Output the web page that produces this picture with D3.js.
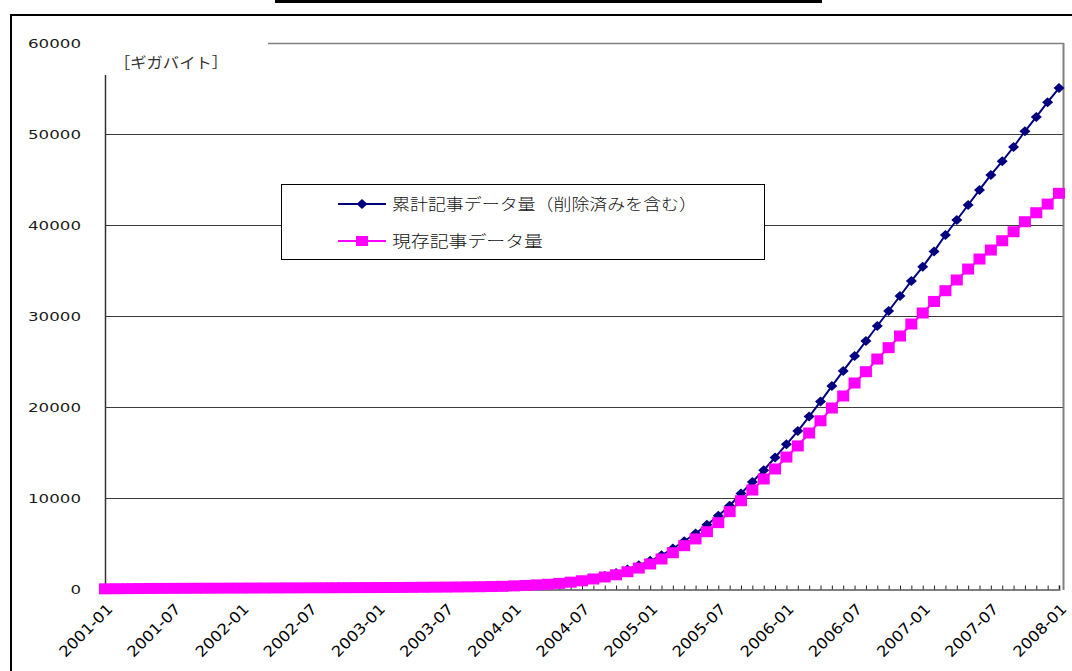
<!DOCTYPE html>
<html>
<head>
<meta charset="utf-8">
<script src="https://cdn.jsdelivr.net/npm/d3@7"></script>
<style>
  html, body { margin: 0; padding: 0; background: #fff; }
  svg { display: block; }
</style>
</head>
<body>
<svg id="chart" width="1072" height="671"></svg>
<script>
// ---------- DATA ----------
const months = d3.timeMonth.range(new Date(2001, 0, 1), new Date(2008, 1, 1)).map(d3.timeFormat("%Y-%m"));

const seriesNames = ["累計記事データ量（削除済みを含む）", "現存記事データ量"];

const cumulative = [
  25, 35, 45, 55, 65, 70, 78, 83, 88, 93, 98, 103,
  110, 115, 120, 125, 130, 136, 142, 148, 154, 160, 166, 172,
  178, 184, 190, 200, 212, 224, 236, 250, 266, 284, 306, 330,
  360, 415, 480, 555, 660, 800, 960, 1160, 1420, 1750, 2150, 2600,
  3100, 3700, 4450, 5250, 6100, 7050, 8050, 9150, 10500, 11750, 13050, 14450,
  15900, 17350, 18950, 20600, 22300, 23960, 25600, 27250, 28900, 30550, 32200, 33850,
  35400, 37100, 38900, 40550, 42200, 43850, 45500, 47000, 48570, 50300, 51870, 53500,
  55050
];

const current = [
  20, 30, 40, 50, 60, 65, 70, 75, 80, 85, 90, 95,
  100, 105, 110, 115, 120, 125, 130, 135, 140, 145, 150, 155,
  160, 165, 170, 180, 190, 200, 210, 220, 235, 250, 270, 290,
  340, 390, 450, 520, 620, 750, 900, 1100, 1320, 1560, 1900, 2300,
  2750, 3300, 3990, 4760, 5500, 6300, 7290, 8500, 9700, 10880, 12090, 13190,
  14500, 15720, 17140, 18490, 19890, 21210, 22640, 23880, 25270, 26520, 27800, 29120,
  30330, 31600, 32780, 33960, 35160, 36260, 37250, 38270, 39260, 40360, 41350, 42300,
  43480
];

const xTickLabels = ["2001-01","2001-07","2002-01","2002-07","2003-01","2003-07","2004-01","2004-07",
                     "2005-01","2005-07","2006-01","2006-07","2007-01","2007-07","2008-01"];
const yTicks = [0, 10000, 20000, 30000, 40000, 50000, 60000];
const unitLabel = "［ギガバイト］";

// ---------- LAYOUT ----------
const svg = d3.select("#chart");
const plot = { left: 105, right: 1063, top: 43, bottom: 589 };

const x = d3.scalePoint().domain(months).range([plot.left, 1059]);
const y = d3.scaleLinear().domain([0, 60000]).range([plot.bottom, plot.top]);

svg.append("rect").attr("width", 1072).attr("height", 671).attr("fill", "#fff");

// title underline (title itself cut off at top)
svg.append("rect").attr("x", 275).attr("y", 0).attr("width", 547).attr("height", 3).attr("fill", "#000");

// outer frame
svg.append("line").attr("x1", 10).attr("x2", 1072).attr("y1", 15).attr("y2", 15)
  .attr("stroke", "#000").attr("stroke-width", 2);
svg.append("line").attr("x1", 11).attr("x2", 11).attr("y1", 14).attr("y2", 671)
  .attr("stroke", "#000").attr("stroke-width", 2);

// gridlines
svg.append("g").selectAll("line").data(yTicks.filter(v => v > 0 && v < 60000)).join("line")
  .attr("x1", plot.left).attr("x2", plot.right)
  .attr("y1", d => Math.round(y(d)) + 0.5).attr("y2", d => Math.round(y(d)) + 0.5)
  .attr("stroke", "#3a3a3a").attr("stroke-width", 1);

// plot area top + right border (gray)
svg.append("line").attr("x1", plot.left).attr("x2", plot.right + 1)
  .attr("y1", y(60000) + 0.5).attr("y2", y(60000) + 0.5)
  .attr("stroke", "#808080").attr("stroke-width", 1.5);
svg.append("line").attr("x1", plot.right + 0.5).attr("x2", plot.right + 0.5)
  .attr("y1", y(60000)).attr("y2", plot.bottom + 1)
  .attr("stroke", "#808080").attr("stroke-width", 2);

// y axis
const yAxis = svg.append("g").attr("transform", `translate(${plot.left},0)`)
  .call(d3.axisLeft(y).tickValues(yTicks).tickSize(0).tickPadding(24).tickFormat(d3.format("d")));
yAxis.select(".domain").attr("stroke", "#333").attr("stroke-width", 1.5);
yAxis.selectAll("text")
  .attr("font-family", "'DejaVu Sans', sans-serif").attr("font-size", 11.5).attr("fill", "#1a1a1a")
  .attr("dy", "0.36em")
  .attr("textLength", d => String(d).length * 10.6).attr("lengthAdjust", "spacingAndGlyphs");

// x axis: monthly inner ticks
const xAxis = svg.append("g").attr("transform", `translate(0,${plot.bottom + 0.5})`)
  .call(d3.axisBottom(x).tickSize(-4).tickFormat(""));
xAxis.select(".domain").attr("stroke", "#808080").attr("stroke-width", 2);
xAxis.selectAll(".tick line").attr("stroke", "#222");

// x axis labels every 6 months
const xLab = svg.append("g").attr("transform", `translate(0,${plot.bottom})`)
  .call(d3.axisBottom(x).tickValues(xTickLabels).tickSize(0).tickPadding(0));
xLab.select(".domain").remove();
xLab.selectAll("text")
  .attr("font-family", "'DejaVu Sans', sans-serif").attr("font-size", 15).attr("fill", "#000")
  .attr("text-anchor", "end").attr("dy", 0).attr("y", 0)
  .attr("transform", "translate(8,21) rotate(-45)")
  .attr("textLength", 68).attr("lengthAdjust", "spacingAndGlyphs");

// white unit label box covering top-left corner
svg.append("rect").attr("x", 100).attr("y", 34).attr("width", 168).attr("height", 41).attr("fill", "#fff");
svg.append("text").attr("x", 114).attr("y", 68).text(unitLabel)
  .attr("font-family", "'Noto Sans CJK JP', sans-serif").attr("font-size", 15).attr("fill", "#333")
  .attr("textLength", 114).attr("lengthAdjust", "spacingAndGlyphs");

// ---------- SERIES ----------
const navy = "#000080", magenta = "#FF00FF";
const line = d3.line().x((d, i) => x(months[i])).y(d => y(d));

svg.append("path").datum(cumulative).attr("d", line)
  .attr("fill", "none").attr("stroke", navy).attr("stroke-width", 2);
const diamond = (cx, cy) => `M${cx},${cy - 5}L${cx + 5.5},${cy}L${cx},${cy + 5}L${cx - 5.5},${cy}Z`;
svg.append("g").selectAll("path").data(cumulative).join("path")
  .attr("d", (d, i) => diamond(x(months[i]), y(d))).attr("fill", navy);

svg.append("path").datum(current).attr("d", line)
  .attr("fill", "none").attr("stroke", magenta).attr("stroke-width", 2);
svg.append("g").selectAll("rect").data(current).join("rect")
  .attr("x", (d, i) => x(months[i]) - 6).attr("y", d => y(d) - 5.5)
  .attr("width", 12).attr("height", 11).attr("fill", magenta);

// ---------- LEGEND ----------
const lg = svg.append("g");
lg.append("rect").attr("x", 281.5).attr("y", 184.5).attr("width", 483).attr("height", 75)
  .attr("fill", "#fff").attr("stroke", "#000").attr("stroke-width", 1);
const legendRows = [
  { name: seriesNames[0], color: navy, shape: "diamond", y: 204, w: 305 },
  { name: seriesNames[1], color: magenta, shape: "square", y: 241, w: 151 }
];
legendRows.forEach(r => {
  lg.append("line").attr("x1", 338).attr("x2", 386).attr("y1", r.y).attr("y2", r.y)
    .attr("stroke", r.color).attr("stroke-width", 2);
  if (r.shape === "diamond") {
    lg.append("path").attr("d", diamond(362, r.y)).attr("fill", r.color);
  } else {
    lg.append("rect").attr("x", 356).attr("y", r.y - 5).attr("width", 12).attr("height", 10).attr("fill", r.color);
  }
  lg.append("text").attr("x", 392).attr("y", r.y).attr("dy", "0.36em").text(r.name)
    .attr("font-family", "'Noto Sans CJK JP', sans-serif").attr("font-size", 16).attr("font-weight", 300).attr("fill", "#111")
    .attr("textLength", r.w).attr("lengthAdjust", "spacingAndGlyphs");
});
</script>
</body>
</html>
